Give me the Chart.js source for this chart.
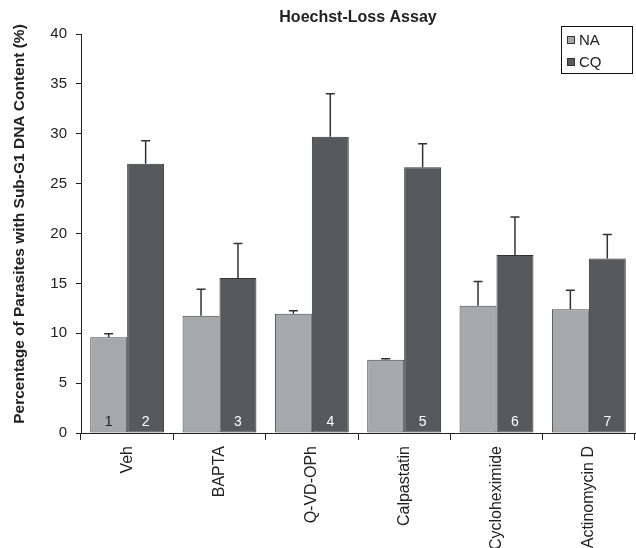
<!DOCTYPE html>
<html>
<head>
<meta charset="utf-8">
<script src="https://cdn.jsdelivr.net/npm/chart.js@4/dist/chart.umd.min.js"></script>
<style>
  html, body { margin: 0; padding: 0; background: #fff; }
  #wrap { width: 636px; height: 548px; position: relative; }
</style>
</head>
<body>
<div id="wrap"><canvas id="c" width="636" height="548"></canvas></div>
<script>
const categories = ["Veh", "BAPTA", "Q-VD-OPh", "Calpastatin", "Cycloheximide", "Actinomycin D"];
const naValues = [9.6, 11.75, 11.95, 7.35, 12.75, 12.4];
const naErrors = [0.35, 2.65, 0.3, 0.1, 2.45, 1.9];
const cqValues = [27.0, 15.55, 29.7, 26.65, 17.85, 17.5];
const cqErrors = [2.3, 3.45, 4.3, 2.35, 3.8, 2.4];
const yTicks = [0, 5, 10, 15, 20, 25, 30, 35, 40];
// bar numbers: [category index, dataset index, label]
const barNumbers = [[0, 0, "1"], [0, 1, "2"], [1, 1, "3"], [2, 1, "4"], [3, 1, "5"], [4, 1, "6"], [5, 1, "7"]];
const chartTitle = "Hoechst-Loss Assay";
const yTitle = "Percentage of Parasites with Sub-G1 DNA Content (%)";

const NA_COLOR = "#a7a8aa";
const CQ_COLOR = "#58595b";
const TEXT = "#222";
const FONT = "'Liberation Sans', Arial, Helvetica, sans-serif";

const errorBarPlugin = {
  id: "errorBars",
  afterDatasetsDraw(chart) {
    const ctx = chart.ctx;
    const y = chart.scales.y;
    const errs = [naErrors, cqErrors];
    ctx.save();
    ctx.strokeStyle = "#333";
    ctx.lineWidth = 1.5;
    chart.data.datasets.forEach((ds, di) => {
      const meta = chart.getDatasetMeta(di);
      meta.data.forEach((bar, i) => {
        const v = ds.data[i];
        const top = y.getPixelForValue(v + errs[di][i]);
        const base = y.getPixelForValue(v);
        ctx.beginPath();
        ctx.moveTo(bar.x, base);
        ctx.lineTo(bar.x, top);
        ctx.moveTo(bar.x - 4.5, top);
        ctx.lineTo(bar.x + 4.5, top);
        ctx.stroke();
      });
    });
    // bar numbers
    ctx.font = "14px " + FONT;
    ctx.textAlign = "center";
    ctx.textBaseline = "middle";
    barNumbers.forEach(([ci, di, txt]) => {
      const bar = chart.getDatasetMeta(di).data[ci];
      ctx.fillStyle = di === 0 ? TEXT : "#fff";
      ctx.fillText(txt, bar.x, y.getPixelForValue(0) - 11);
    });
    // legend
    const lx = 561, ly = 26, lw = 71, lh = 47;
    ctx.fillStyle = "#fff";
    ctx.fillRect(lx, ly, lw, lh);
    ctx.strokeStyle = "#111";
    ctx.lineWidth = 1;
    ctx.strokeRect(lx + 0.5, ly + 0.5, lw, lh);
    const items = [["NA", NA_COLOR, 40], ["CQ", CQ_COLOR, 62]];
    ctx.font = "15px " + FONT;
    ctx.textAlign = "left";
    items.forEach(([t, col, cy]) => {
      ctx.fillStyle = col;
      ctx.fillRect(lx + 6, cy - 4, 8, 8);
      ctx.strokeStyle = "#333";
      ctx.strokeRect(lx + 6.5, cy - 3.5, 7, 7);
      ctx.fillStyle = TEXT;
      ctx.fillText(t, lx + 18, cy + 1);
    });
    ctx.restore();
  }
};

new Chart(document.getElementById("c"), {
  type: "bar",
  data: {
    labels: categories,
    datasets: [
      { label: "NA", data: naValues, backgroundColor: NA_COLOR, borderColor: "#444", borderWidth: 1, borderSkipped: false, categoryPercentage: 0.8, barPercentage: 1.0 },
      { label: "CQ", data: cqValues, backgroundColor: CQ_COLOR, borderColor: "#333", borderWidth: 1, borderSkipped: false, categoryPercentage: 0.8, barPercentage: 1.0 }
    ]
  },
  options: {
    responsive: false,
    animation: false,
    devicePixelRatio: 1,
    layout: { padding: { top: 34, right: 1, left: 0, bottom: 0 } },
    plugins: {
      legend: { display: false },
      tooltip: { enabled: false },
      title: { display: false }
    },
    scales: {
      x: {
        offset: true,
        grid: { offset: true, drawOnChartArea: false, drawTicks: true, tickLength: 7, color: "#222" },
        border: { display: true, color: "#222", width: 1 },
        ticks: { minRotation: 90, maxRotation: 90, autoSkip: false, color: TEXT, font: { family: FONT, size: 16 }, padding: 6 },
        afterFit(scale) { scale.height = 115; }
      },
      y: {
        min: 0, max: 40,
        afterBuildTicks(scale) { scale.ticks = yTicks.map(v => ({ value: v })); },
        grid: { drawOnChartArea: false, drawTicks: true, tickLength: 5, color: "#222" },
        border: { display: true, color: "#222", width: 1 },
        ticks: { color: TEXT, font: { family: FONT, size: 15 }, padding: 9 },
        afterFit(scale) { scale.width = 81; }
      }
    }
  },
  plugins: [errorBarPlugin, {
    id: "titles",
    afterDraw(chart) {
      const ctx = chart.ctx;
      const a = chart.chartArea;
      ctx.save();
      ctx.font = "bold 16px " + FONT;
      ctx.fillStyle = TEXT;
      ctx.textAlign = "center";
      ctx.textBaseline = "middle";
      ctx.fillText(chartTitle, (a.left + a.right) / 2, 18);
      ctx.translate(20, 224);
      ctx.rotate(-Math.PI / 2);
      ctx.font = "bold 15.5px " + FONT;
      ctx.fillText(yTitle, 0, 0);
      ctx.restore();
    }
  }]
});
</script>
</body>
</html>
